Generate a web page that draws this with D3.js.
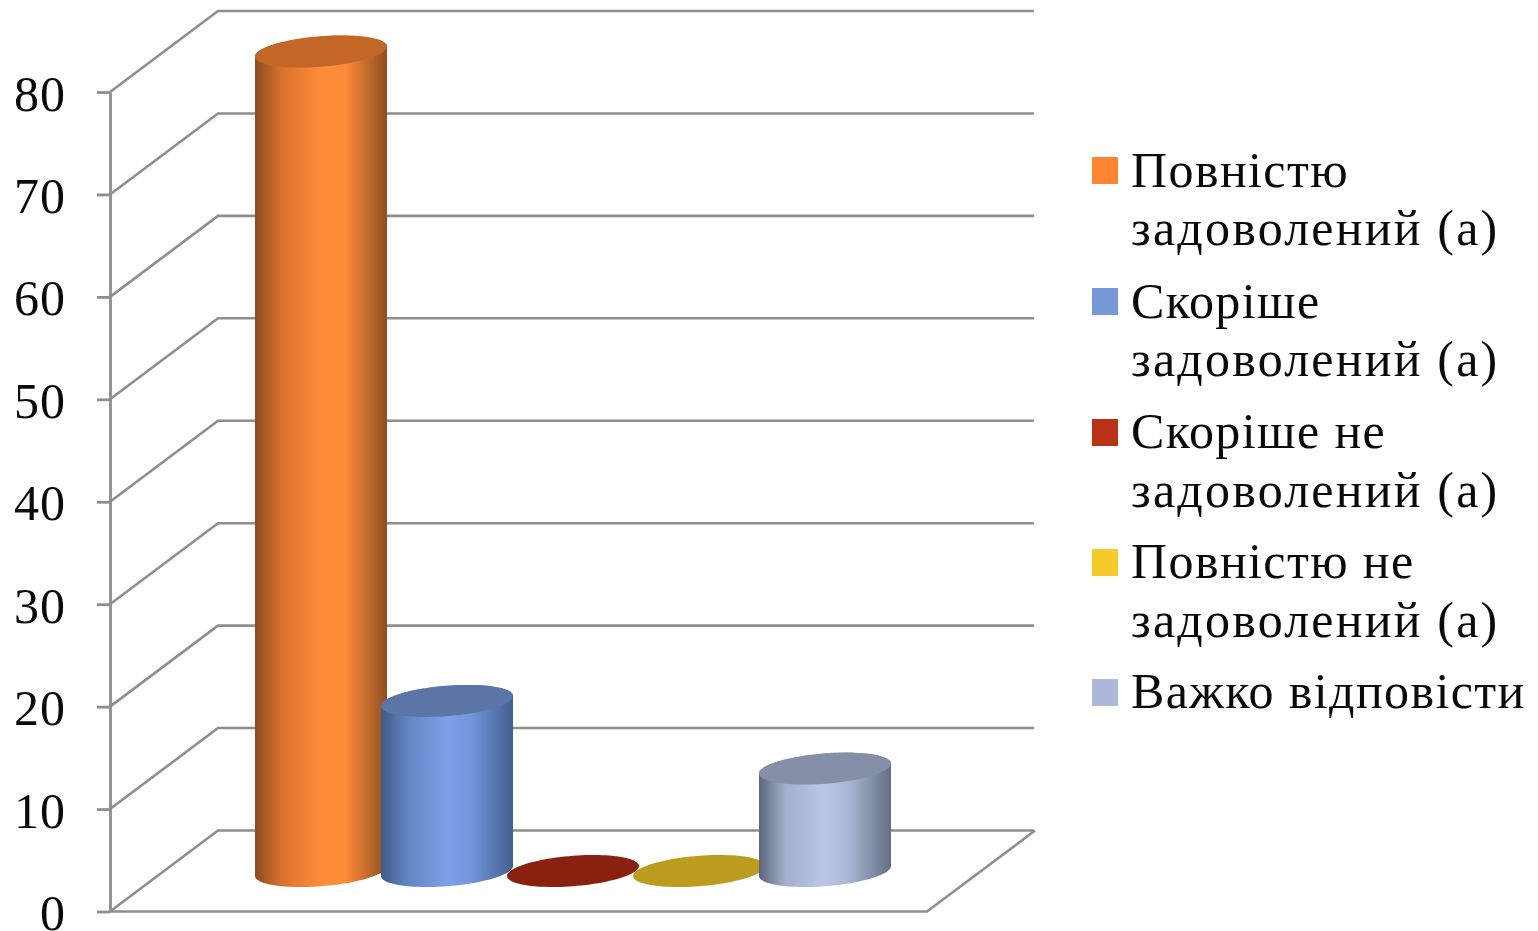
<!DOCTYPE html>
<html><head><meta charset="utf-8">
<script src="https://cdn.jsdelivr.net/npm/d3@7/dist/d3.min.js"></script>
<style>html,body{margin:0;padding:0;background:#fff;overflow:hidden}svg{display:block}
text{font-family:"Liberation Serif",serif;fill:#0a0a0a}</style></head>
<body><svg id="c" width="1538" height="931"></svg>
<script>
const seriesNames=[["Повністю","задоволений (а)"],["Скоріше","задоволений (а)"],["Скоріше не","задоволений (а)"],["Повністю не","задоволений (а)"],["Важко відповісти"]];
const seriesValues=[80,16.6,0,0,10];
const legendColors=["#ff8533","#7799d8","#b93218","#f5cb2c","#adb9d9"];
const topColors=["#c36628","#5a75a6","#8a2110","#bb9c1f","#858fa8"];
const gradStops=[
 ["#8a4c1f","#d9722e","#ff8c39","#ff8c39","#8f4f22"],
 ["#3f5a8a","#6485c4","#7ca1e8","#7396dc","#435f90"],
 ["#5a1508","#8a2110","#8a2110","#8a2110","#5a1508"],
 ["#7d6914","#bb9c1f","#bb9c1f","#bb9c1f","#7d6914"],
 ["#5c667b","#a3afcd","#b9c6e4","#aab6d4","#646e84"]];
const tickValues=d3.range(0,81,10);

const svg=d3.select("#c");
const y=d3.scaleLinear().domain([0,80]).range([911.5,92]);
const x=d3.scaleBand().domain(d3.range(5)).range([204,834]);
const front={l:110,r:927}, depth={dx:108,dy:-81};
const grey="#8e8e8e";

// walls and floor
const g=svg.append("g").attr("fill","none").attr("stroke",grey).attr("stroke-width",2.6);
tickValues.forEach(v=>{
  g.append("path").attr("d",d3.line()([[front.l,y(v)],[front.l+depth.dx,y(v)+depth.dy],[1034,y(v)+depth.dy]]));
});
g.append("path").attr("d",d3.line()([[front.l,y(0)],[front.r,y(0)],[front.r+depth.dx,y(0)+depth.dy]]));

// axis
const axis=svg.append("g").attr("transform",`translate(${front.l},0)`)
  .call(d3.axisLeft(y).tickValues(tickValues).tickSize(13).tickSizeOuter(0).tickPadding(32));
axis.selectAll("path,line").attr("stroke",grey).attr("stroke-width",2.8);
axis.selectAll("text").attr("font-size",50).attr("letter-spacing",1).attr("dy",null)
  .attr("y",18).attr("x",-44).attr("text-anchor","end")
  .style("font-family",'"Liberation Serif",serif').style("fill","#0a0a0a");

// cylinders
const rx=66,tilt=5,ry=15.2;
const defs=svg.append("defs");
const ell=(cx,cy,a0,a1,n=48)=>d3.range(n+1).map(i=>{
  const t=a0+(a1-a0)*i/n;
  return [cx+rx*Math.cos(t),cy-tilt*Math.cos(t)-ry*Math.sin(t)];
});
const line=d3.line();
seriesValues.forEach((v,i)=>{
  const cx=x(i)+x.bandwidth()/2+depth.dx/2;
  const base=y(0)+depth.dy/2, top=y(v)+depth.dy/2;
  const lg=defs.append("linearGradient").attr("id","g"+i);
  gradStops[i].forEach((c,k)=>lg.append("stop").attr("offset",[0,.2,.5,.68,1][k]).attr("stop-color",c));
  if(v>0){
    const pts=[...ell(cx,top,Math.PI,0),...ell(cx,base,0,-Math.PI)];
    svg.append("path").attr("d",line(pts)+"Z").attr("fill",`url(#g${i})`);
  }
  svg.append("path").attr("d",line(ell(cx,top,0,2*Math.PI,96))+"Z").attr("fill",topColors[i]);
});

// legend
const legendTop=[157,288,419,549,679];
const lineY=[[187,245],[318,376],[448,507],[578,637],[708]];
seriesNames.forEach((lines,i)=>{
  svg.append("rect").attr("x",1092).attr("y",legendTop[i]).attr("width",26).attr("height",27).attr("fill",legendColors[i]);
  lines.forEach((t,k)=>svg.append("text").attr("x",1131).attr("y",lineY[i][k]).attr("font-size",50).attr("letter-spacing",k==1?2.2:1.4).text(t));
});
</script></body></html>
